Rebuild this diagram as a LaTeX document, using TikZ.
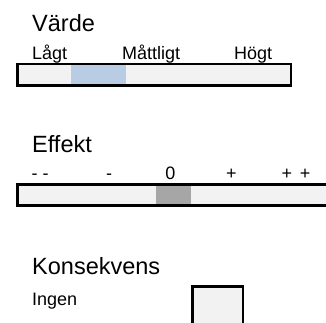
\documentclass[tikz,border=0pt]{standalone}
\usepackage{fontspec}
\setmainfont{Liberation Sans}
\definecolor{barfill}{HTML}{F2F2F2}
\definecolor{blueseg}{HTML}{B8CCE4}
\definecolor{grayseg}{HTML}{A6A6A6}
\tikzset{
  title/.style={anchor=base west, inner sep=0pt, font=\fontsize{23.5}{28}\selectfont},
  lbl/.style={anchor=base west, inner sep=0pt, font=\fontsize{18}{22}\selectfont},
  clbl/.style={anchor=base, inner sep=0pt, font=\fontsize{18}{22}\selectfont},
  barframe/.style={draw=black, line width=2.5pt, fill=barfill},
}
\begin{document}
\begin{tikzpicture}[x=1pt, y=-1pt]
\clip (0,0) rectangle (326,322);
\fill[white] (0,0) rectangle (326,322);
% Värde
\node[title] (vtitle) at (32,31) {Värde};
\node[lbl] (vlow) at (32,59) {Lågt};
\node[lbl] (vmid) at (122,59) {Måttligt};
\node[lbl] (vhigh) at (234,59) {Högt};
\draw[barframe] (17.25,64) rectangle (290.75,85.5);
\fill[blueseg] (71,65.25) rectangle (126,84.25);
% Effekt
\node[title] (etitle) at (32,152) {Effekt};
\node[lbl] (emm) at (31.5,179) {- -};
\node[clbl] (em) at (109,179) {-};
\node[clbl] (ez) at (170.5,179) {0};
\node[clbl] (ep) at (231.5,179) {+};
\node[clbl] (epp) at (296,179) {+\hspace{7.8pt}+};
\draw[barframe] (17.25,184.5) rectangle (345,205.5);
\fill[grayseg] (156,185.75) rectangle (191,204.25);
% Konsekvens
\node[title] (ktitle) at (32,274) {Konsekvens};
\node[lbl] (knone) at (32,305) {Ingen};
\draw[barframe] (192.25,286.25) rectangle (242.75,345);
\end{tikzpicture}
\end{document}
